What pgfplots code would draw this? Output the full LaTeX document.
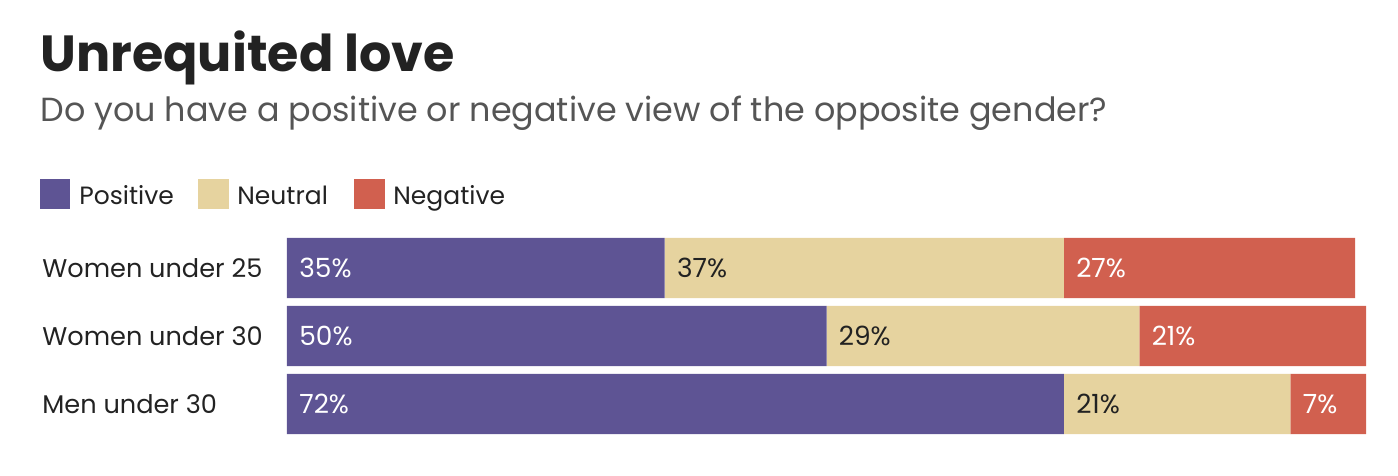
\documentclass[border=0pt]{standalone}
\usepackage{fontspec}
\setmainfont{Poppins}
\usepackage{pgfplots}
\pgfplotsset{compat=1.18}
\definecolor{cpos}{HTML}{5E5494}
\definecolor{cneu}{HTML}{E6D39F}
\definecolor{cneg}{HTML}{D1604F}
\definecolor{ink}{HTML}{222222}
\definecolor{subc}{HTML}{555555}
\begin{document}
\begin{tikzpicture}[x=0.5pt,y=0.5pt]
\path[use as bounding box] (0,0) rectangle (1398,476);
\node[anchor=base west, inner sep=0, text=ink, font=\fontsize{25.4}{30}\selectfont\bfseries] at (40,404) {Unrequited love};
\node[anchor=base west, inner sep=0, text=subc, font=\fontsize{16.7}{20}\selectfont] at (40,354) {Do you have a positive or negative view of the opposite gender?};
% legend
\fill[cpos] (40,267) rectangle (70,297);
\node[anchor=base west, inner sep=0, text=ink, font=\fontsize{12.5}{15}\selectfont] at (79,271) {Positive};
\fill[cneu] (198,267) rectangle (229,297);
\node[anchor=base west, inner sep=0, text=ink, font=\fontsize{12.5}{15}\selectfont] at (237,271) {Neutral};
\fill[cneg] (354,267) rectangle (385,297);
\node[anchor=base west, inner sep=0, text=ink, font=\fontsize{12.5}{15}\selectfont] at (393,271) {Negative};
\begin{axis}[
  at={(143.5pt,19pt)}, anchor=south west,
  scale only axis, width=539.5pt, height=102pt,
  xmin=0, xmax=100, ymin=-0.5, ymax=2.5, y dir=reverse,
  xbar stacked, bar width=30pt,
  axis line style={draw=none}, major tick length=0pt,
  xtick=\empty, ytick={0,1,2},
  yticklabels={Women under 25, Women under 30, Men under 30},
  yticklabel style={anchor=west, xshift=-122.5pt, inner sep=0pt, text=ink, font=\fontsize{12.8}{15}\selectfont},
  point meta=explicit symbolic,
  nodes near coords={\pgfplotspointmeta\%},
  every node near coord/.append style={anchor=west, xshift={-\pgfplotspointmeta*2.6975pt+6pt}, inner sep=0pt, font=\fontsize{13.2}{15}\selectfont},
]
\addplot[fill=cpos, draw=none, every node near coord/.append style={text=white}] coordinates {(35,0)[35] (50,1)[50] (72,2)[72]};
\addplot[fill=cneu, draw=none, every node near coord/.append style={text=ink}] coordinates {(37,0)[37] (29,1)[29] (21,2)[21]};
\addplot[fill=cneg, draw=none, every node near coord/.append style={text=white}] coordinates {(27,0)[27] (21,1)[21] (7,2)[7]};
\end{axis}
\end{tikzpicture}
\end{document}
